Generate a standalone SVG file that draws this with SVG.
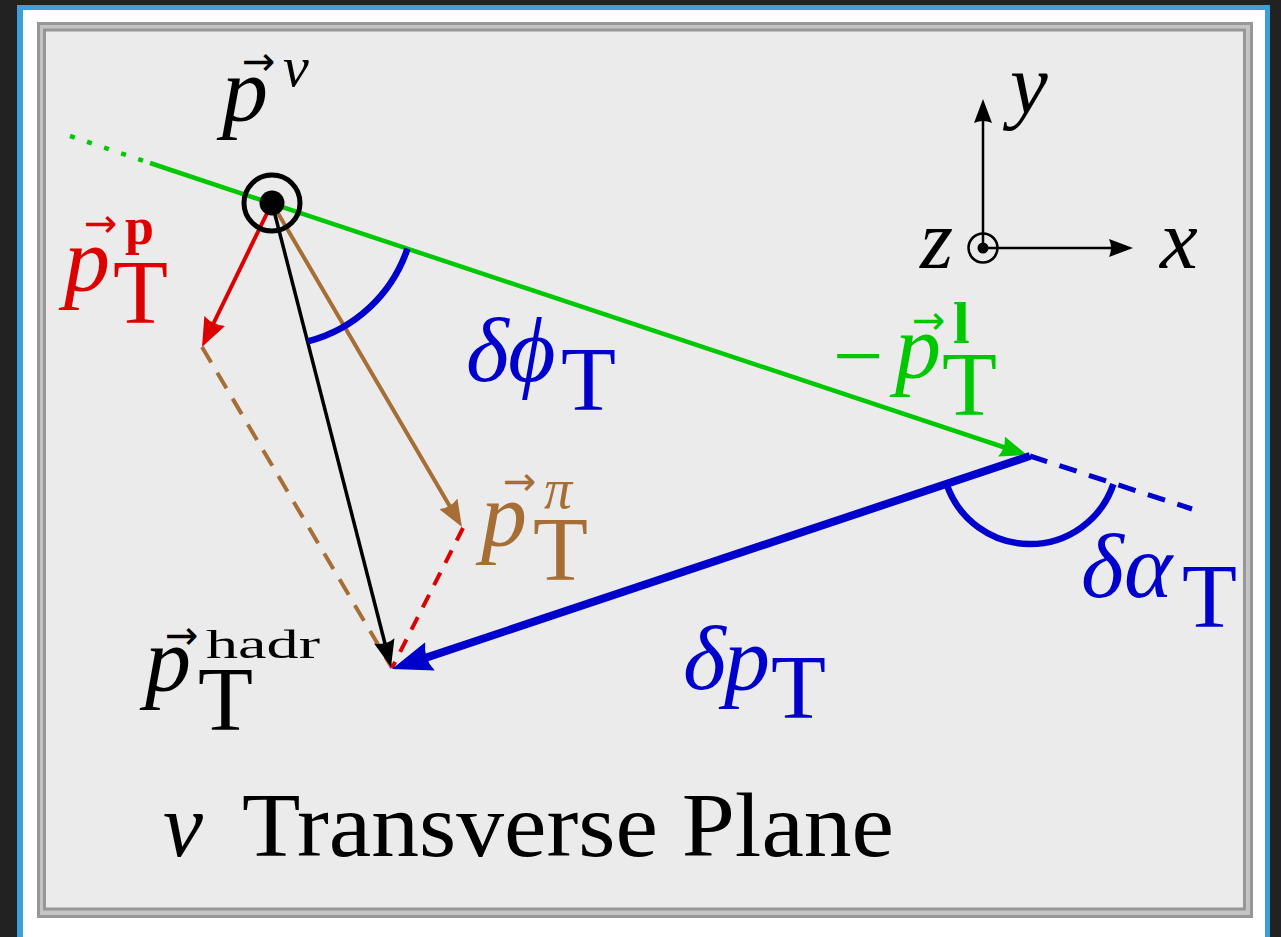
<svg xmlns="http://www.w3.org/2000/svg" width="1281" height="937" viewBox="0 0 1281 937">
<style>
.lbl{font-family:"Liberation Serif","DejaVu Serif",serif}
.it{font-style:italic}
.bd{font-weight:bold}
.vec{font-family:"DejaVu Sans",sans-serif;font-size:40px;font-style:normal}
.g{fill:#00c800}.r{fill:#dd0000}.b{fill:#0000cc}.br{fill:#a66d34}.k{fill:#000}
</style>
<defs>
<marker id="ahk" markerUnits="userSpaceOnUse" viewBox="0 0 27 21" markerWidth="27" markerHeight="21" refX="17" refY="10.5" orient="auto">
<path d="M0,0 L27,10.5 L0,21 Q5,10.5 0,0 Z" fill="#000"/>
</marker>
<marker id="ahr" markerUnits="userSpaceOnUse" viewBox="0 0 29 23" markerWidth="29" markerHeight="23" refX="19" refY="11.5" orient="auto">
<path d="M0,0 L29,11.5 L0,23 Q5,11.5 0,0 Z" fill="#dd0000"/>
</marker>
<marker id="ahg" markerUnits="userSpaceOnUse" viewBox="0 0 27 21" markerWidth="27" markerHeight="21" refX="17" refY="10.5" orient="auto">
<path d="M0,0 L27,10.5 L0,21 Q5,10.5 0,0 Z" fill="#00c800"/>
</marker>
<marker id="ahbr" markerUnits="userSpaceOnUse" viewBox="0 0 27 21" markerWidth="27" markerHeight="21" refX="17" refY="10.5" orient="auto">
<path d="M0,0 L27,10.5 L0,21 Q5,10.5 0,0 Z" fill="#a66d34"/>
</marker>
<marker id="ahb" markerUnits="userSpaceOnUse" viewBox="0 0 40 30" markerWidth="40" markerHeight="30" refX="26" refY="15" orient="auto">
<path d="M0,0 L40,15 L0,30 Q7,15 0,0 Z" fill="#0000cc"/>
</marker>
<marker id="aha" markerUnits="userSpaceOnUse" viewBox="0 0 24 18" markerWidth="24" markerHeight="18" refX="12" refY="9" orient="auto">
<path d="M0,0 L24,9 L0,18 Q4,9 0,0 Z" fill="#000"/>
</marker>
</defs>

<g id="frame">
<rect x="0" y="0" width="1281" height="937" fill="#222222"/>
<rect x="17" y="5" width="1253" height="1000" fill="#3b9fd9"/>
<rect x="23" y="10" width="1242" height="1000" fill="#ffffff"/>
<rect x="38.5" y="23.5" width="1213" height="893" fill="#c4c4c4" stroke="#979797" stroke-width="3"/>
<rect x="44.5" y="30" width="1200" height="879" fill="#ebebeb" stroke="#979797" stroke-width="3"/>
</g>

<g id="connectors" fill="none">
<line x1="70" y1="136" x2="150" y2="163" stroke="#00c800" stroke-width="4.5" stroke-dasharray="5 13"/>
<line x1="150" y1="163" x2="1017.5" y2="451.8" stroke="#00c800" stroke-width="4.5" marker-end="url(#ahg)"/>
<line x1="1030" y1="456" x2="1192" y2="509" stroke="#0000cc" stroke-width="5" stroke-dasharray="18 13"/>
<line x1="202" y1="347" x2="392" y2="668" stroke="#a66d34" stroke-width="4" stroke-dasharray="18 12"/>
<line x1="463" y1="528" x2="392" y2="668" stroke="#dd0000" stroke-width="4" stroke-dasharray="14 11"/>
<line x1="272" y1="203" x2="206.4" y2="338" stroke="#dd0000" stroke-width="4" marker-end="url(#ahr)"/>
<line x1="272" y1="203" x2="456.9" y2="518.4" stroke="#a66d34" stroke-width="4" marker-end="url(#ahbr)"/>
<line x1="272" y1="203" x2="388.5" y2="657.3" stroke="#000" stroke-width="3.5" marker-end="url(#ahk)"/>
<line x1="1030" y1="456" x2="405.3" y2="664.6" stroke="#0000cc" stroke-width="8" marker-end="url(#ahb)"/>
<path d="M407.5,248.6 A143,143 0 0 1 307.8,341.4" stroke="#0000cc" stroke-width="6.5"/>
<path d="M946.5,483.8 A88,88 0 0 0 1113.4,484.1" stroke="#0000cc" stroke-width="6.5"/>
</g>

<g id="origin">
<circle cx="272" cy="203" r="28" fill="none" stroke="#000" stroke-width="5"/>
<circle cx="272" cy="203" r="12.5" fill="#000"/>
</g>

<g id="axes">
<line x1="983" y1="248" x2="983" y2="111" stroke="#000" stroke-width="2.5" marker-end="url(#aha)"/>
<line x1="983" y1="248" x2="1121" y2="248" stroke="#000" stroke-width="2.5" marker-end="url(#aha)"/>
<circle cx="983" cy="248" r="14.5" fill="none" stroke="#000" stroke-width="2.5"/>
<circle cx="983" cy="248" r="5.5" fill="#000"/>
<text class="lbl it k" x="1010" y="113" font-size="85">y</text>
<text class="lbl it k" x="920" y="268" font-size="85">z</text>
<text class="lbl it k" x="1160" y="268" font-size="85">x</text>
</g>

<g id="label-pnu">
<text class="lbl it k" font-size="92"><tspan x="222" y="121">p</tspan><tspan class="vec" x="242" y="75">→</tspan><tspan x="283" y="86" font-size="58">ν</tspan></text>
</g>

<g id="label-pTp">
<text class="lbl it r" font-size="92"><tspan x="64" y="291">p</tspan><tspan class="vec" x="84" y="237">→</tspan><tspan class="bd" style="font-style:normal" x="125" y="244" font-size="52">p</tspan><tspan style="font-style:normal" x="113" y="323" font-size="90">T</tspan></text>
</g>

<g id="label-dphi">
<text class="lbl it b" font-size="92"><tspan x="466" y="381">δ</tspan><tspan x="508" y="381">ϕ</tspan><tspan style="font-style:normal" x="561" y="410" font-size="90">T</tspan></text>
</g>

<g id="label-pTl">
<text class="lbl it g" font-size="92"><tspan style="font-style:normal" x="833" y="386" font-size="90">−</tspan><tspan x="895" y="378">p</tspan><tspan class="vec" x="912" y="334">→</tspan><tspan class="bd" style="font-style:normal" x="953" y="343" font-size="60">l</tspan><tspan style="font-style:normal" x="942" y="415" font-size="90">T</tspan></text>
</g>

<g id="label-pTpi">
<text class="lbl it br" font-size="92"><tspan x="481" y="546">p</tspan><tspan class="vec" x="503" y="495">→</tspan><tspan x="544" y="508" font-size="56">π</tspan><tspan style="font-style:normal" x="533" y="580" font-size="90">T</tspan></text>
</g>

<g id="label-dalpha">
<text class="lbl it b" font-size="92"><tspan x="1081" y="597">δ</tspan><tspan x="1124" y="597">α</tspan><tspan style="font-style:normal" x="1182" y="627" font-size="90">T</tspan></text>
</g>

<g id="label-dpT">
<text class="lbl it b" font-size="92"><tspan x="683" y="689">δ</tspan><tspan x="724" y="690">p</tspan><tspan style="font-style:normal" x="771" y="718" font-size="90">T</tspan></text>
</g>

<g id="label-pThadr">
<text class="lbl it k" font-size="92"><tspan x="145" y="691">p</tspan><tspan class="vec" x="165" y="649">→</tspan><tspan style="font-style:normal" x="206" y="658" font-size="40" textLength="114" lengthAdjust="spacingAndGlyphs">hadr</tspan><tspan style="font-style:normal" x="198" y="730" font-size="90">T</tspan></text>
</g>

<g id="title">
<text class="lbl k" font-size="92"><tspan class="it" x="163" y="856" font-size="90">ν</tspan><tspan x="242" y="856" textLength="652" lengthAdjust="spacingAndGlyphs">Transverse Plane</tspan></text>
</g>
</svg>
